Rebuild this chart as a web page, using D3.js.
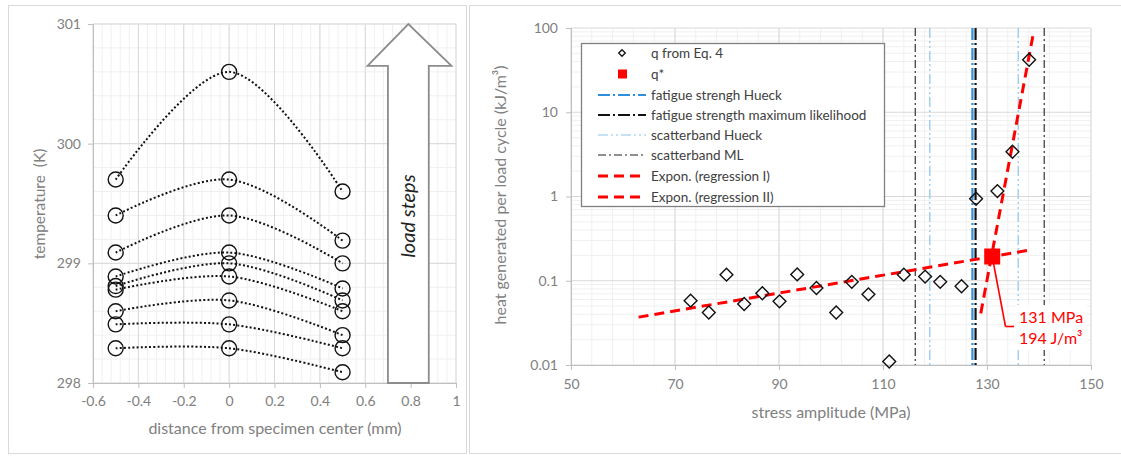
<!DOCTYPE html>
<html><head><meta charset="utf-8">
<script src="https://cdn.jsdelivr.net/npm/d3@7"></script>
<style>
html,body{margin:0;padding:0;background:#fff;}
svg{display:block;font-family:Lato,"Open Sans",sans-serif;}
text{white-space:pre;}
</style></head>
<body><svg id="c" width="1121" height="457"></svg>
<script>
// ---------- Left chart data ----------
const positions = [-0.5, 0, 0.5];
const loadStepTemps = [
  [299.70, 300.60, 299.60],
  [299.40, 299.70, 299.19],
  [299.09, 299.40, 299.00],
  [298.89, 299.09, 298.79],
  [298.81, 299.00, 298.69],
  [298.78, 298.89, 298.60],
  [298.60, 298.69, 298.40],
  [298.49, 298.49, 298.29],
  [298.29, 298.29, 298.09]
];
const leftXTicks = [-0.6, -0.4, -0.2, 0, 0.2, 0.4, 0.6, 0.8, 1];
const leftYTicks = [298, 299, 300, 301];

// ---------- Right chart data ----------
const stressAmp = [73.0, 76.5, 79.9, 83.3, 86.8, 90.1, 93.5, 97.2, 101.0, 104.0, 107.2, 111.2, 114.0, 118.1, 121.0, 125.1, 127.9, 132.0, 134.9, 138.1];
const heatQ    = [0.058, 0.042, 0.118, 0.053, 0.071, 0.057, 0.119, 0.082, 0.042, 0.097, 0.069, 0.011, 0.118, 0.112, 0.097, 0.086, 0.94, 1.16, 3.4, 42];
const qStar = {x: 131, q: 0.194};
const regIx = [63, 138], regIq = [0.037, 0.23];
const regIIx = [128.8, 139], regIIq = [0.041, 92];
const fatigueHueck = 127.2, fatigueML = 127.8;
const scatterHueck = [119.0, 136.0], scatterML = [116.2, 141.0];
const rightXTicks = [50, 70, 90, 110, 130, 150];
const rightYTicks = [0.01, 0.1, 1, 10, 100];
const legendLabels = ["q from Eq. 4", "q*", "fatigue strengh Hueck", "fatigue strength maximum likelihood",
  "scatterband Hueck", "scatterband ML", "Expon. (regression I)", "Expon. (regression II)"];

const svg = d3.select("#c");
const tickCol = "#808080", gridMajor = "#d9d9d9", gridMinor = "#f0f0f0";

// panel borders
svg.append("rect").attr("x",8.5).attr("y",5.5).attr("width",458).attr("height",448).attr("fill","none").attr("stroke","#d9d9d9");
svg.append("rect").attr("x",469.5).attr("y",5.5).attr("width",660).attr("height",448).attr("fill","none").attr("stroke","#d9d9d9");

// ================= LEFT =================
const lx = d3.scaleLinear().domain([-0.6, 1]).range([93, 456]);
const ly = d3.scaleLinear().domain([298, 301]).range([383, 24]);
const L = svg.append("g");
d3.range(-0.6, 1.0001, 0.04).forEach(v => L.append("line").attr("x1",lx(v)).attr("x2",lx(v)).attr("y1",ly(298)).attr("y2",ly(301)).attr("stroke",gridMinor));
d3.range(298, 301.0001, 0.2).forEach(v => L.append("line").attr("y1",ly(v)).attr("y2",ly(v)).attr("x1",lx(-0.6)).attr("x2",lx(1)).attr("stroke",gridMinor));
leftXTicks.forEach(v => L.append("line").attr("x1",lx(v)).attr("x2",lx(v)).attr("y1",ly(298)).attr("y2",ly(301)).attr("stroke",gridMajor));
leftYTicks.forEach(v => L.append("line").attr("y1",ly(v)).attr("y2",ly(v)).attr("x1",lx(-0.6)).attr("x2",lx(1)).attr("stroke",gridMajor));

const fmtL = d => String(+d.toFixed(1));
const axL = L.append("g").attr("transform",`translate(93,0)`).call(d3.axisLeft(ly).tickValues(leftYTicks).tickSize(5).tickFormat(d=>String(d)));
const axB = L.append("g").attr("transform",`translate(0,383)`).call(d3.axisBottom(lx).tickValues(leftXTicks).tickSize(5).tickFormat(fmtL));
[axL, axB].forEach(a => { a.select(".domain").attr("stroke","#bfbfbf"); a.selectAll(".tick line").attr("stroke","#bfbfbf");
  a.selectAll("text").attr("fill",tickCol).attr("font-size",14).attr("font-family","Lato"); });
axL.selectAll("text").attr("x",-12);
axB.selectAll("text").attr("y",13);

// arrow
const ax0 = lx(0.7), ax1 = lx(0.88), ahL = lx(0.61), ahR = lx(0.98), tipX = lx(0.79);
const headBase = ly(300.65);
L.append("path").attr("d",`M${ax0},${ly(298)} L${ax0},${headBase} L${ahL},${headBase} L${tipX},${ly(301)} L${ahR},${headBase} L${ax1},${headBase} L${ax1},${ly(298)} Z`)
  .attr("fill","#fff").attr("stroke","#8c8c8c").attr("stroke-width",1.8);
L.append("text").attr("transform",`translate(${(ax0+ax1)/2+7},216) rotate(-90)`).attr("text-anchor","middle")
  .attr("font-size",20).attr("font-style","italic").attr("fill","#222").text("load steps");

// series
const line = d3.line().x((d,i)=>lx(positions[i])).y(d=>ly(d)).curve(d3.curveCatmullRom.alpha(0.5));
loadStepTemps.forEach(s => {
  L.append("path").attr("d",line(s)).attr("fill","none").attr("stroke","#111").attr("stroke-width",2).attr("stroke-dasharray","2,2.2");
});
loadStepTemps.forEach(s => s.forEach((v,i) => {
  L.append("circle").attr("cx",lx(positions[i])).attr("cy",ly(v)).attr("r",7.5).attr("fill","none").attr("stroke","#111").attr("stroke-width",1.4);
}));

L.append("text").attr("transform","translate(45,204) rotate(-90)").attr("text-anchor","middle").attr("font-size",15.5).attr("fill",tickCol).text("temperature  (K)");
L.append("text").attr("x",275).attr("y",434).attr("text-anchor","middle").attr("font-size",16).attr("fill",tickCol).text("distance from specimen center (mm)");

// ================= RIGHT =================
const rx = d3.scaleLinear().domain([50, 150]).range([571, 1091]);
const ry = d3.scaleLog().domain([0.01, 100]).range([365, 28]);
const R = svg.append("g");
d3.range(50, 150.001, 4).forEach(v => R.append("line").attr("x1",rx(v)).attr("x2",rx(v)).attr("y1",ry(0.01)).attr("y2",ry(100)).attr("stroke",gridMinor));
[0.01,0.1,1,10].forEach(dec => d3.range(2,10).forEach(m => { const v = dec*m;
  R.append("line").attr("y1",ry(v)).attr("y2",ry(v)).attr("x1",rx(50)).attr("x2",rx(150)).attr("stroke",gridMinor); }));
rightXTicks.forEach(v => R.append("line").attr("x1",rx(v)).attr("x2",rx(v)).attr("y1",ry(0.01)).attr("y2",ry(100)).attr("stroke",gridMajor));
rightYTicks.forEach(v => R.append("line").attr("y1",ry(v)).attr("y2",ry(v)).attr("x1",rx(50)).attr("x2",rx(150)).attr("stroke",gridMajor));

const axRL = R.append("g").attr("transform","translate(571,0)").call(d3.axisLeft(ry).tickValues(rightYTicks).tickSize(5).tickFormat(d=>String(d)));
const axRB = R.append("g").attr("transform","translate(0,365)").call(d3.axisBottom(rx).tickValues(rightXTicks).tickSize(5).tickFormat(d=>String(d)));
[axRL, axRB].forEach(a => { a.select(".domain").attr("stroke","#bfbfbf"); a.selectAll(".tick line").attr("stroke","#bfbfbf");
  a.selectAll("text").attr("fill",tickCol).attr("font-size",14).attr("font-family","Lato"); });
axRL.selectAll("text").attr("x",-13);
axRB.selectAll("text").attr("y",14);

// vertical lines
const styles = {
  fH: {c:"#2f8fdc", w:2.2, d:"12,3,2,3"},
  fML:{c:"#111", w:2.2, d:"12,3,2,3"},
  sH: {c:"#8fc3ea", w:1.2, d:"10,3,2,3,2,3"},
  sML:{c:"#222", w:1.1, d:"8,3,2,3"}
};
function vline(v, s){ R.append("line").attr("x1",rx(v)).attr("x2",rx(v)).attr("y1",ry(100)).attr("y2",ry(0.01))
  .attr("stroke",s.c).attr("stroke-width",s.w).attr("stroke-dasharray",s.d); }
scatterML.forEach(v=>vline(v,styles.sML));
scatterHueck.forEach(v=>vline(v,styles.sH));
vline(fatigueHueck, styles.fH);
vline(fatigueML, styles.fML);

// regression lines
const regLine = d3.line().x(d=>rx(d[0])).y(d=>ry(d[1]));
R.append("path").attr("d",regLine(d3.zip(regIx,regIq))).attr("fill","none").attr("stroke","#ff0000").attr("stroke-width",3).attr("stroke-dasharray","10,6");
R.append("path").attr("d",regLine(d3.zip(regIIx,regIIq))).attr("fill","none").attr("stroke","#ff0000").attr("stroke-width",3).attr("stroke-dasharray","10,6");

// diamonds
const dia = d3.symbol().type(d3.symbolDiamond2).size(105);
stressAmp.forEach((x,i) => R.append("path").attr("d",dia()).attr("transform",`translate(${rx(x)},${ry(heatQ[i])})`)
  .attr("fill","none").attr("stroke","#111").attr("stroke-width",1.4));

// q*
const sqS = 16;
R.append("line").attr("x1",rx(qStar.x)).attr("y1",ry(qStar.q)).attr("x2",1005.5).attr("y2",326.5).attr("stroke","#ff0000").attr("stroke-width",1.6);
R.append("line").attr("x1",1005.5).attr("y1",326.5).attr("x2",1014).attr("y2",326.5).attr("stroke","#ff0000").attr("stroke-width",1.6);
R.append("rect").attr("x",rx(qStar.x)-sqS/2).attr("y",ry(qStar.q)-sqS/2).attr("width",sqS).attr("height",sqS).attr("fill","#ff0000");
R.append("rect").attr("x",1015).attr("y",305).attr("width",72).attr("height",45).attr("fill","#fff");
R.append("text").attr("x",1019).attr("y",323).attr("font-size",16).attr("fill","#ff0000").text(`${qStar.x} MPa`);
R.append("text").attr("x",1019).attr("y",344).attr("font-size",16).attr("fill","#ff0000").text(`${Math.round(qStar.q*1000)} J/m³`);

// legend
const lg = R.append("g");
lg.append("rect").attr("x",581.5).attr("y",43.5).attr("width",303).attr("height",163).attr("fill","#fff").attr("stroke","#808080").attr("stroke-width",1.3);
const legY = [53, 74, 95, 115, 135, 155, 176, 197];
legendLabels.forEach((t,i) => {
  const y = legY[i];
  lg.append("text").attr("x",651).attr("y",y).attr("dy","0.35em").attr("font-size",13.5).attr("fill","#404040").text(t);
  if (i===0) lg.append("path").attr("d",d3.symbol().type(d3.symbolDiamond2).size(28)()).attr("transform",`translate(622,${y})`).attr("fill","none").attr("stroke","#111").attr("stroke-width",1.3);
  else if (i===1) lg.append("rect").attr("x",618).attr("y",y-4.5).attr("width",9).attr("height",9).attr("fill","#ff0000");
  else {
    const s = i===2?styles.fH : i===3?styles.fML : i===4?styles.sH : i===5?styles.sML : {c:"#ff0000",w:3,d:"10,6"};
    lg.append("line").attr("x1",598).attr("x2",646).attr("y1",y).attr("y2",y).attr("stroke",s.c).attr("stroke-width",s.w).attr("stroke-dasharray",s.d);
  }
});

R.append("text").attr("transform","translate(506,195) rotate(-90)").attr("text-anchor","middle").attr("font-size",16).attr("fill",tickCol).text("heat generated per load cycle (kJ/m³)");
R.append("text").attr("x",831).attr("y",418).attr("text-anchor","middle").attr("font-size",16).attr("fill",tickCol).text("stress amplitude (MPa)");
</script></body></html>
